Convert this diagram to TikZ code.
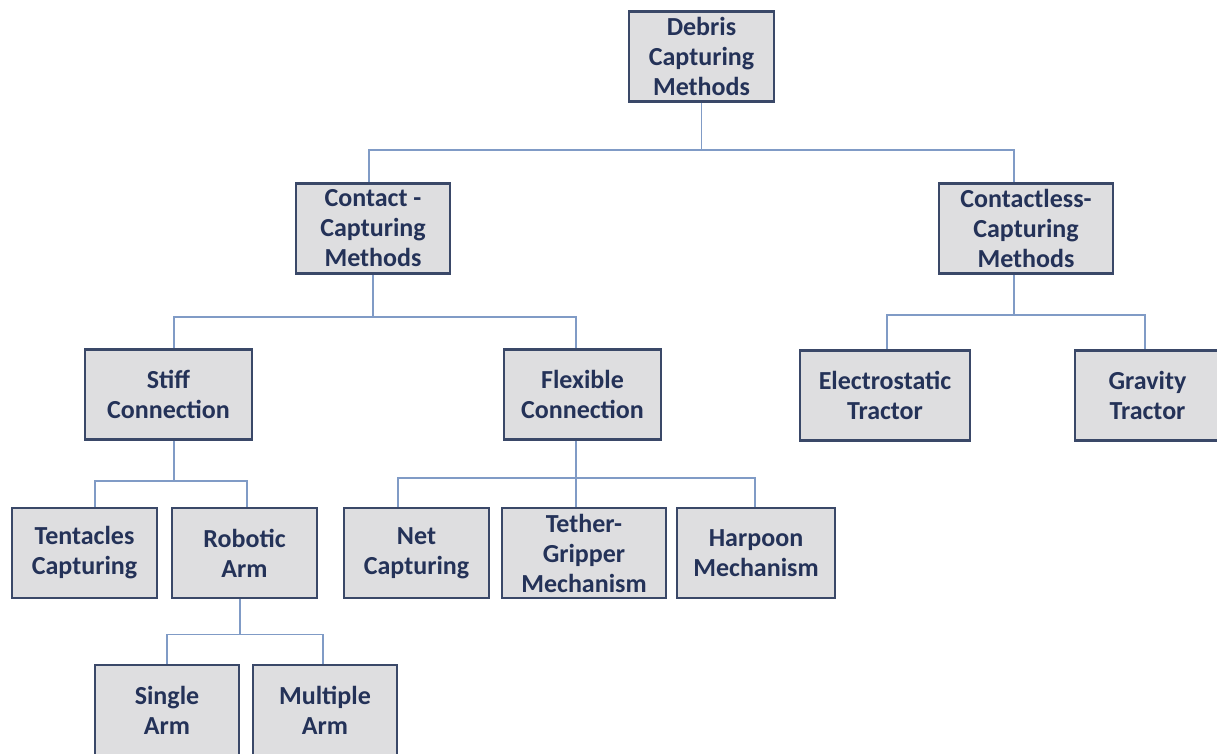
\documentclass[tikz,border=0pt]{standalone}
\usepackage{fontspec}
\setmainfont{Carlito}
\usetikzlibrary{positioning}

\definecolor{boxtext}{RGB}{36,50,88}
\definecolor{boxline}{RGB}{58,72,104}
\definecolor{boxfill}{RGB}{222,222,224}
\definecolor{linkline}{RGB}{128,155,198}

\tikzset{
  capbox/.style={draw=boxline,line width=1.4pt,fill=boxfill,text=boxtext,
    align=center,inner sep=0pt,minimum width=#1,minimum height=45pt,
    font=\fontsize{13}{15}\selectfont\bfseries},
  capbox/.default=72.5pt,
  link/.style={draw=linkline,line width=0.8pt}
}

\begin{document}
\begin{tikzpicture}[x=0.5pt,y=-0.5pt]
  \useasboundingbox (0,0) rectangle (1217,754);
  \clip (0,0) rectangle (1217,754);

  \node [capbox]        (debris)      at (701.5,56.5)  {Debris\\Capturing\\Methods};
  \node [capbox=77pt]   (contact)     at (373,228.5)   {Contact -\\Capturing\\Methods};
  \node [capbox=87pt]   (contactless) at (1026,228.5)  {Contactless-\\Capturing\\Methods};
  \node [capbox=83.5pt] (stiff)       at (168.5,394.5) {Stiff\\Connection};
  \node [capbox=78.5pt] (flexible)    at (582.5,394.5) {Flexible\\Connection};
  \node [capbox=85pt]   (electro)     at (885,395.5)   {Electrostatic\\Tractor};
  \node [capbox]        (gravity)     at (1147.5,395.5){Gravity\\Tractor};
  \node [capbox]        (tentacles)   at (84.5,553)    {Tentacles\\Capturing};
  \node [capbox]        (robotic)     at (244.5,553)   {Robotic\\Arm};
  \node [capbox]        (net)         at (416.5,553)   {Net\\Capturing};
  \node [capbox=82pt]   (tether)      at (584,553)     {Tether-\\Gripper\\Mechanism};
  \node [capbox=79pt]   (harpoon)     at (756,553)     {Harpoon\\Mechanism};
  \node [capbox=72pt]   (single)      at (167,710)     {Single\\Arm};
  \node [capbox=72pt]   (multiple)    at (325,710)     {Multiple\\Arm};

  % first level
  \draw [link] (debris.south) -- ++(0,47) -| ([xshift=-2pt]contact.north);
  \draw [link] (debris.south) -- ++(0,47) -| ([xshift=-6pt]contactless.north);

  % contact branch
  \draw [link] (contact.south) -- ++(0,42) -| ([xshift=2.75pt]stiff.north);
  \draw [link] (contact.south) -- ++(0,42) -| ([xshift=-3.25pt]flexible.north);

  % contactless branch
  \draw [link] ([xshift=-6pt]contactless.south) -- ++(0,40) -| ([xshift=1pt]electro.north);
  \draw [link] ([xshift=-6pt]contactless.south) -- ++(0,40) -| ([xshift=-1.25pt]gravity.north);

  % stiff branch
  \draw [link] ([xshift=2.75pt]stiff.south) -- ++(0,40) -| ([xshift=5.25pt]tentacles.north);
  \draw [link] ([xshift=2.75pt]stiff.south) -- ++(0,40) -| ([xshift=1.25pt]robotic.north);

  % flexible branch
  \draw [link] ([xshift=-3.25pt]flexible.south) -- ++(0,37) -| ([xshift=-9.25pt]net.north);
  \draw [link] ([xshift=-3.25pt]flexible.south) -- ++(0,37) -| ([xshift=-4pt]tether.north);
  \draw [link] ([xshift=-3.25pt]flexible.south) -- ++(0,37) -| ([xshift=-0.5pt]harpoon.north);

  % robotic arm branch
  \draw [link] ([xshift=-2.25pt]robotic.south) -- ++(0,35) -| (single.north);
  \draw [link] ([xshift=-2.25pt]robotic.south) -- ++(0,35) -| ([xshift=-1pt]multiple.north);

\end{tikzpicture}
\end{document}
